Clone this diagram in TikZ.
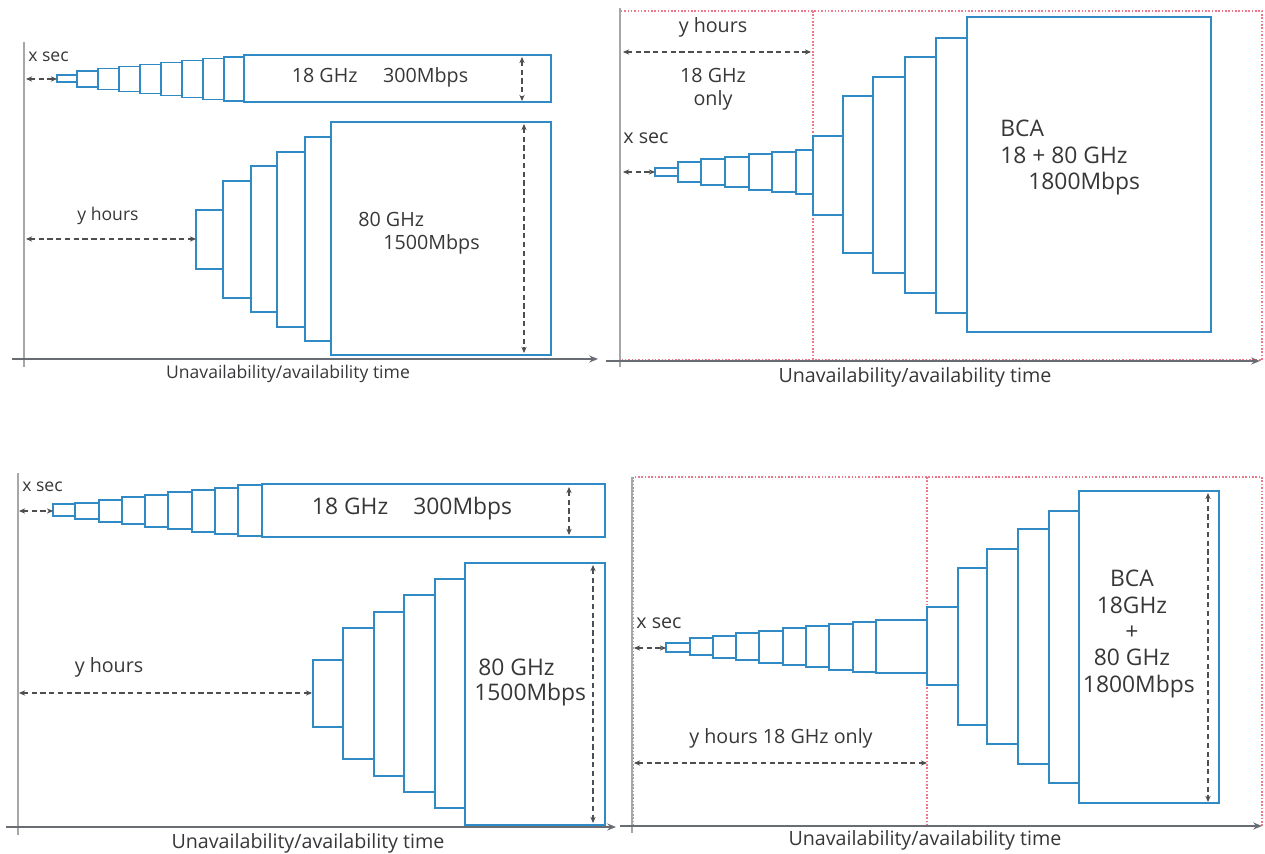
\documentclass[tikz,border=0pt]{standalone}
\usepackage{fontspec}
\setmainfont{Open Sans}
\usetikzlibrary{
    arrows.meta,
    positioning,
    calc
}
\definecolor{boxblue}{RGB}{48,138,198}
\definecolor{axisgray}{RGB}{105,108,115}
\definecolor{dimgray}{RGB}{78,78,80}
\definecolor{zonered}{RGB}{240,118,140}
\definecolor{txtgray}{RGB}{55,55,58}
\tikzset{
    % --- One rate step of the staircase ---
    stepbox/.style = {
        draw=boxblue, line width=1.1pt
    },
    % --- Time axis (horizontal, with tip) ---
    time axis/.style = {
        draw=axisgray, line width=1.3pt,
        -{Stealth[length=5pt,width=4pt]}
    },
    % --- Vertical axis line ---
    value axis/.style = {
        draw=axisgray!60, line width=0.8pt
    },
    % --- Dashed dimension arrow ---
    dim arrow/.style = {
        draw=dimgray, line width=0.95pt, dash pattern=on 3pt off 2pt,
        {Stealth[length=3.5pt,width=3pt]}-{Stealth[length=3.5pt,width=3pt]}
    },
    % --- Dotted zone border (BCA) ---
    zone/.style = {
        draw=zonered, line width=1.1pt, dash pattern=on 0.9pt off 1pt
    },
    % --- Text sizes ---
    txt/.style = {inner sep=0pt, text=txtgray},
    small txt/.style = {txt, font=\fontsize{10}{12}\selectfont},
    mid txt/.style = {txt, font=\fontsize{11.2}{13}\selectfont},
    big txt/.style = {txt, font=\fontsize{13}{15}\selectfont}
}

\begin{document}
\begin{tikzpicture}[x=0.02cm, y=-0.02cm]
\useasboundingbox (0,0) rectangle (1265,854);

% ---------------------------------------------------------
% Panel 1: 18 GHz and 80 GHz separately
% ---------------------------------------------------------
\foreach \xa/\xb/\ya/\yb in {57/77/75/82, 77/98/71/87, 98/119/68.5/89.5,
    119/140/66.5/91.5, 140/161/64.5/93.5, 161/182/62.5/95.5,
    182/203/60.5/97.5, 203/224/58.5/99.5, 224/244/57/101, 244/551/55/102}
    \draw[stepbox] (\xa,\ya) rectangle (\xb,\yb);
\foreach \xa/\xb/\ya/\yb in {196/223/210/269, 223/251/181/298, 251/277/166/312,
    277/305/152/327, 305/331/137/341, 331/551/122/355}
    \draw[stepbox] (\xa,\ya) rectangle (\xb,\yb);

\coordinate (AxA0) at (24,42);
\coordinate (AxA1) at (24,367);
\coordinate (TaA0) at (12,359);
\coordinate (TaA1) at (598,359);
\draw[value axis] (AxA0) -- (AxA1);
\draw[time axis] (TaA0) -- (TaA1);
\node[small txt] (TimeA) at (288,374) {Unavailability/availability time};

\coordinate (XsA0) at (26,79);
\coordinate (XsA1) at (57,79);
\draw[dim arrow] (XsA0) -- (XsA1);
\node[small txt, anchor=west] (XsecA) at (28,57) {x sec};

\coordinate (YhA0) at (26,239);
\coordinate (YhA1) at (196,239);
\draw[dim arrow] (YhA0) -- (YhA1);
\node[small txt] (YhoursA) at (108,216) {y hours};

\coordinate (HtA0) at (522,57);
\coordinate (HtA1) at (522,101);
\draw[dim arrow] (HtA0) -- (HtA1);
\coordinate (HtA2) at (524,124);
\coordinate (HtA3) at (524,353);
\draw[dim arrow] (HtA2) -- (HtA3);

\node[mid txt] (LowA) at (380,77) {18 GHz\hspace{1.3em}300Mbps};
\node[mid txt, anchor=west] (HighA) at (358,219) {80 GHz};
\node[mid txt, anchor=west] (HighRateA) at (383,244) {1500Mbps};

% ---------------------------------------------------------
% Panel 2: BCA, 18 GHz only during y hours
% ---------------------------------------------------------
\draw[zone] (620,11) rectangle (1262,360);
\draw[zone] (813,11) -- (813,360);

\foreach \xa/\xb/\ya/\yb in {655/678/168/176, 678/701/162/182, 701/725/159/185,
    725/749/157/187, 749/772/154/190, 772/796/152/192, 796/813/150/194}
    \draw[stepbox] (\xa,\ya) rectangle (\xb,\yb);
\foreach \xa/\xb/\ya/\yb in {813/843/136/215, 843/873/96/253, 873/905/77/273,
    905/936/57/293, 936/967/38/313, 967/1211/17/332}
    \draw[stepbox] (\xa,\ya) rectangle (\xb,\yb);

\coordinate (AxB0) at (620,8);
\coordinate (AxB1) at (620,367);
\coordinate (TaB0) at (606,361);
\coordinate (TaB1) at (1260,361);
\draw[value axis] (AxB0) -- (AxB1);
\draw[time axis] (TaB0) -- (TaB1);
\node[mid txt] (TimeB) at (915,377) {Unavailability/availability time};

\coordinate (YhB0) at (623,52);
\coordinate (YhB1) at (811,52);
\draw[dim arrow] (YhB0) -- (YhB1);
\node[mid txt] (YhoursB) at (713,27) {y hours};
\node[mid txt, align=center] (OnlyB) at (713,89) {18 GHz\\only};

\coordinate (XsB0) at (623,172);
\coordinate (XsB1) at (655,172);
\draw[dim arrow] (XsB0) -- (XsB1);
\node[mid txt, anchor=west] (XsecB) at (623,138) {x sec};

\node[big txt, anchor=west] (BcaB) at (1000,128) {BCA};
\node[big txt, anchor=west] (BandsB) at (1000,155) {18 + 80 GHz};
\node[big txt, anchor=west] (RateB) at (1028,184) {1800Mbps};

% ---------------------------------------------------------
% Panel 3: 18 GHz and 80 GHz separately (longer steps)
% ---------------------------------------------------------
\foreach \xa/\xb/\ya/\yb in {53/75/504/516, 75/99/503/519, 99/122/500/522,
    122/145/497/524, 145/168/495/527, 168/192/492/529, 192/215/490/532,
    215/238/488/534, 238/262/485/536, 262/605/484/537}
    \draw[stepbox] (\xa,\ya) rectangle (\xb,\yb);
\foreach \xa/\xb/\ya/\yb in {313/343/660/727, 343/374/628/759, 374/404/612/776,
    404/435/595/792, 435/465/579/808, 465/605/563/825}
    \draw[stepbox] (\xa,\ya) rectangle (\xb,\yb);

\coordinate (AxC0) at (18,473);
\coordinate (AxC1) at (18,835);
\coordinate (TaC0) at (6,827);
\coordinate (TaC1) at (616,827);
\draw[value axis] (AxC0) -- (AxC1);
\draw[time axis] (TaC0) -- (TaC1);
\node[mid txt] (TimeC) at (308,843) {Unavailability/availability time};

\coordinate (XsC0) at (19,511);
\coordinate (XsC1) at (53,511);
\draw[dim arrow] (XsC0) -- (XsC1);
\node[small txt, anchor=west] (XsecC) at (22,487) {x sec};

\coordinate (YhC0) at (19,693);
\coordinate (YhC1) at (312,693);
\draw[dim arrow] (YhC0) -- (YhC1);
\node[mid txt] (YhoursC) at (109,667) {y hours};

\coordinate (HtC0) at (569,487);
\coordinate (HtC1) at (569,535);
\draw[dim arrow] (HtC0) -- (HtC1);
\coordinate (HtC2) at (593,565);
\coordinate (HtC3) at (593,823);
\draw[dim arrow] (HtC2) -- (HtC3);

\node[big txt] (LowC) at (412,509) {18 GHz\hspace{1.1em}300Mbps};
\node[big txt, anchor=west] (HighC) at (478,667) {80 GHz};
\node[big txt, anchor=west] (HighRateC) at (474,695) {1500Mbps};

% ---------------------------------------------------------
% Panel 4: BCA, y hours 18 GHz only
% ---------------------------------------------------------
\draw[zone] (633,477) rectangle (1262,826);
\draw[zone] (927,477) -- (927,826);

\foreach \xa/\xb/\ya/\yb in {666/690/643/652, 690/713/638/655, 713/736/636/658,
    736/759/633/660, 759/783/631/663, 783/806/628/665, 806/829/626/667,
    829/853/624/670, 853/876/622/672, 876/927/620/673}
    \draw[stepbox] (\xa,\ya) rectangle (\xb,\yb);
\foreach \xa/\xb/\ya/\yb in {927/958/607/685, 958/987/568/725, 987/1018/549/744,
    1018/1049/529/764, 1049/1079/511/783, 1079/1219/491/803}
    \draw[stepbox] (\xa,\ya) rectangle (\xb,\yb);

\coordinate (AxD0) at (632,477);
\coordinate (AxD1) at (632,833);
\coordinate (TaD0) at (620,826);
\coordinate (TaD1) at (1262,826);
\draw[value axis] (AxD0) -- (AxD1);
\draw[time axis] (TaD0) -- (TaD1);
\node[mid txt] (TimeD) at (925,840) {Unavailability/availability time};

\coordinate (XsD0) at (634,648);
\coordinate (XsD1) at (666,648);
\draw[dim arrow] (XsD0) -- (XsD1);
\node[mid txt, anchor=west] (XsecD) at (636,623) {x sec};

\coordinate (YhD0) at (634,763);
\coordinate (YhD1) at (927,763);
\draw[dim arrow] (YhD0) -- (YhD1);
\node[mid txt] (YhoursD) at (781,738) {y hours 18 GHz only};

\coordinate (HtD0) at (1208,493);
\coordinate (HtD1) at (1208,802);
\draw[dim arrow] (HtD0) -- (HtD1);

\node[big txt, align=center] (BcaD) at (1132,634) {BCA\\18GHz\\+\\80 GHz\\\hspace{0.6em}1800Mbps};

\end{tikzpicture}
\end{document}
